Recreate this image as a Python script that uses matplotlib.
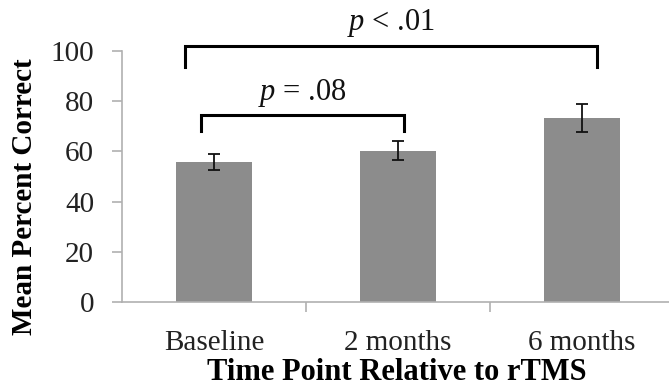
import matplotlib
matplotlib.use("Agg")
import matplotlib.pyplot as plt

# data
categories = ["Baseline", "2 months", "6 months"]
means = [55.7, 60.2, 73.4]
errors = [3.1, 3.8, 5.6]

# significance brackets: (left, right, top, leg bottom, label)
brackets = [
    (-0.16, 2.08, 102.1, 93.7, "$p$ < .01"),
    (-0.07, 1.03, 74.5, 68.2, "$p$ = .08"),
]

plt.rcParams['font.family'] = ['Liberation Serif', 'DejaVu Serif']
plt.rcParams['mathtext.fontset'] = 'custom'
plt.rcParams['mathtext.rm'] = 'Liberation Serif'
plt.rcParams['mathtext.it'] = 'Liberation Serif:italic'

fig = plt.figure(figsize=(6.69, 3.90), dpi=100)
ax = fig.add_axes([122/669, 1 - 302/390, 547/669, 251/390])

x = list(range(len(categories)))
ax.bar(x, means, width=0.41, color="#8c8c8c", zorder=2)
ax.errorbar(x, means, yerr=errors, fmt='none', ecolor='#111111',
            elinewidth=1.3, capsize=4.5, capthick=1.3, zorder=3)

ax.set_xlim(-0.5, 2.473)
ax.set_ylim(0, 100)
ax.set_yticks([0, 20, 40, 60, 80, 100])
ax.set_xticks(x)
ax.set_xticklabels(categories)
ax.set_xticks([0.5, 1.5], minor=True)

for s in ['top', 'right']:
    ax.spines[s].set_visible(False)
for s in ['left', 'bottom']:
    ax.spines[s].set_color('#b0b0b0')
    ax.spines[s].set_linewidth(1.2)

ax.tick_params(axis='y', length=7, width=1.2, color='#b0b0b0', pad=13,
               labelsize=21, labelcolor='#222222')
ax.tick_params(axis='x', which='major', length=0, pad=20,
               labelsize=21, labelcolor='#222222')
ax.tick_params(axis='x', which='minor', length=7, width=1.2, color='#b0b0b0')

ax.set_xlabel("Time Point Relative to rTMS", fontsize=22, fontweight='bold')
ax.xaxis.set_label_coords(0.503, -0.279)
ax.xaxis.label.set_verticalalignment('center')
ax.set_ylabel("Mean Percent Correct", fontsize=21, fontweight='bold')
ax.yaxis.set_label_coords(-0.178, 0.418)
ax.yaxis.label.set_verticalalignment('center')

for left, right, top, bottom, label in brackets:
    ax.plot([left, left, right, right], [bottom, top, top, bottom],
            color='black', lw=2.2, clip_on=False, solid_joinstyle='miter')
    ax.text((left + right) / 2, top + 2.5, label, ha='center', va='bottom',
            fontsize=22, color='#111111', clip_on=False)

fig.savefig("out.png", dpi=100)
